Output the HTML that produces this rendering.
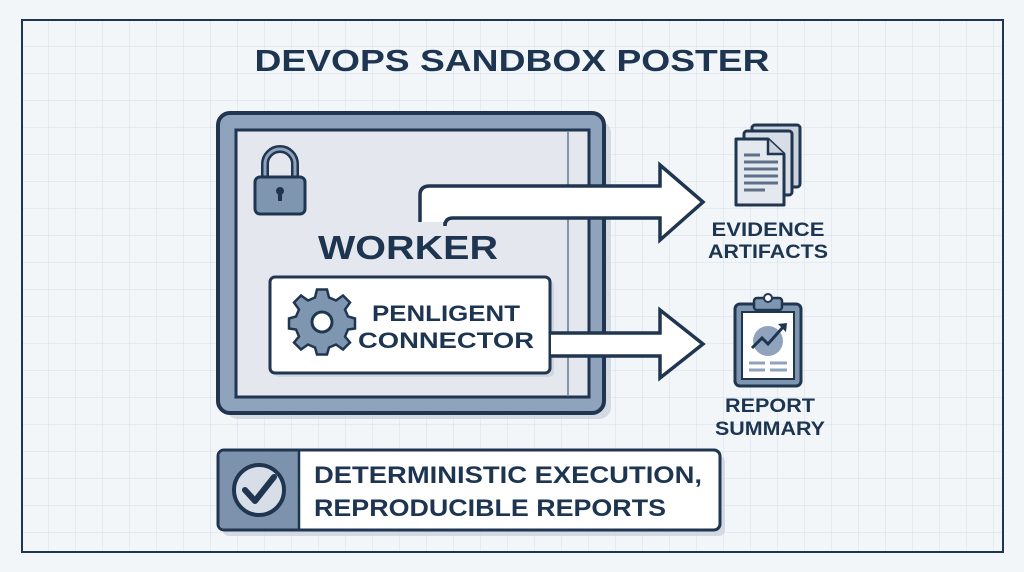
<!DOCTYPE html>
<html><head><meta charset="utf-8"><style>
html,body{margin:0;padding:0;background:#f3f6f9;}
svg{display:block}
text{font-family:"Liberation Sans",sans-serif;font-weight:bold;fill:#1d3550}
</style></head><body>
<svg width="1024" height="572" viewBox="0 0 1024 572" xmlns="http://www.w3.org/2000/svg">
<defs>
<pattern id="g" width="27" height="27" patternUnits="userSpaceOnUse" x="22" y="20">
<path d="M27 0V27M0 27H27" stroke="#d5dfe9" stroke-width="1" fill="none"/>
</pattern>
</defs>
<rect width="1024" height="572" fill="#f3f6f9"/>
<rect x="22" y="20" width="981" height="532" fill="url(#g)" stroke="#1f3550" stroke-width="2"/>
<text x="512" y="71" font-size="31" text-anchor="middle" textLength="515" lengthAdjust="spacingAndGlyphs">DEVOPS SANDBOX POSTER</text>

<!-- worker box -->
<rect x="226" y="121" width="385" height="298" rx="12" fill="#c6ceda" opacity="0.7"/>
<rect x="218" y="113" width="386" height="300" rx="12" fill="#8fa4bc" stroke="#1f3550" stroke-width="4"/>
<rect x="236" y="130" width="353" height="267" fill="#e4e8ee" stroke="#1f3550" stroke-width="3"/>
<line x1="568" y1="132" x2="568" y2="395" stroke="#8594a8" stroke-width="2"/>

<!-- lock -->
<path d="M265 178 V164 a15 15 0 0 1 30 0 V178" fill="none" stroke="#1f3550" stroke-width="8"/>
<path d="M265 178 V164 a15 15 0 0 1 30 0 V178" fill="none" stroke="#8fa4bc" stroke-width="3"/>
<rect x="255" y="177" width="50" height="37" rx="5" fill="#7f96b0" stroke="#1f3550" stroke-width="3"/>
<circle cx="280" cy="191" r="4" fill="#1f3550"/><rect x="278" y="192" width="4" height="9" fill="#1f3550"/>

<!-- upper arrow -->
<path d="M420 222 V195 Q420 186 430 186 H660 V165 L703 202 L660 240 V218 H453 Q445 218 445 226 V222" fill="#fff" stroke="#1f3550" stroke-width="3.5" stroke-linejoin="miter"/>
<text x="408" y="259" font-size="33" text-anchor="middle" textLength="180" lengthAdjust="spacingAndGlyphs">WORKER</text>

<!-- connector box -->
<rect x="274" y="281" width="280" height="96" rx="5" fill="#c6ceda" opacity="0.7"/>
<rect x="270" y="277" width="280" height="96" rx="5" fill="#fff" stroke="#1f3550" stroke-width="3"/>
<g transform="translate(322,322)" fill="#7f96b0" stroke="#1f3550" stroke-width="2.5">
<path d="M-5 -31 H5 L7 -23 L14 -20 L21 -25 L28 -18 L23 -11 L26 -4 L33 -2 V8 L26 9 L23 16 L28 22 L21 29 L14 24 L7 27 L5 34 H-5 L-7 27 L-14 24 L-21 29 L-28 22 L-23 16 L-26 9 L-33 8 V-2 L-26 -4 L-23 -11 L-28 -18 L-21 -25 L-14 -20 L-7 -23 Z" transform="translate(0,-1.5)"/>
<circle r="10" fill="#fff" stroke-width="3"/>
</g>
<text x="446" y="321" font-size="22" text-anchor="middle" textLength="148" lengthAdjust="spacingAndGlyphs">PENLIGENT</text>
<text x="446" y="348" font-size="22" text-anchor="middle" textLength="176" lengthAdjust="spacingAndGlyphs">CONNECTOR</text>

<!-- lower arrow -->
<path d="M551 333 H660 V310 L703 344 L660 378 V356 H551" fill="#fff" stroke="#1f3550" stroke-width="3.5"/>

<!-- documents icon -->
<rect x="752" y="125" width="48" height="62" rx="3" fill="#c9d2dd" stroke="#1f3550" stroke-width="3"/>
<rect x="744" y="131" width="48" height="64" rx="3" fill="#d8dee7" stroke="#1f3550" stroke-width="3"/>
<path d="M736 139 H768 L784 154 V205 H736 Z" fill="#e4e9ef" stroke="#1f3550" stroke-width="3" stroke-linejoin="round"/>
<path d="M768 139 V154 H784" fill="#c9d2dd" stroke="#1f3550" stroke-width="2.5"/>
<g stroke="#5c7088" stroke-width="3"><line x1="744" y1="155" x2="760" y2="155"/><line x1="744" y1="162" x2="778" y2="162"/><line x1="744" y1="169" x2="778" y2="169"/><line x1="744" y1="176" x2="778" y2="176"/><line x1="744" y1="183" x2="778" y2="183"/><line x1="744" y1="190" x2="765" y2="190"/></g>
<text x="768" y="236" font-size="19" text-anchor="middle" textLength="113" lengthAdjust="spacingAndGlyphs">EVIDENCE</text>
<text x="768" y="258" font-size="19" text-anchor="middle" textLength="120" lengthAdjust="spacingAndGlyphs">ARTIFACTS</text>

<!-- clipboard -->
<rect x="735" y="304" width="66" height="82" rx="5" fill="#7f96b0" stroke="#1f3550" stroke-width="3"/>
<rect x="742" y="312" width="52" height="67" fill="#fff" stroke="#1f3550" stroke-width="2"/>
<rect x="754" y="298" width="28" height="12" rx="3" fill="#7f96b0" stroke="#1f3550" stroke-width="2.5"/>
<circle cx="768" cy="298" r="4" fill="#fff" stroke="#1f3550" stroke-width="2"/>
<circle cx="768" cy="341" r="15" fill="#8fa4bc"/>
<path d="M752 348 L762 338 L768 344 L784 326" fill="none" stroke="#1f3550" stroke-width="3"/>
<path d="M778 324 L787 323 L786 332 Z" fill="#1f3550"/>
<g stroke="#8fa4bc" stroke-width="3"><line x1="749" y1="363" x2="765" y2="363"/><line x1="770" y1="363" x2="787" y2="363"/><line x1="749" y1="370" x2="765" y2="370"/><line x1="770" y1="370" x2="787" y2="370"/></g>
<text x="770" y="412" font-size="19" text-anchor="middle" textLength="90" lengthAdjust="spacingAndGlyphs">REPORT</text>
<text x="770" y="435" font-size="19" text-anchor="middle" textLength="110" lengthAdjust="spacingAndGlyphs">SUMMARY</text>

<!-- bottom banner -->
<rect x="223" y="456" width="502" height="80" rx="6" fill="#c6ceda" opacity="0.7"/>
<rect x="218" y="450" width="502" height="80" rx="6" fill="#fff" stroke="#1f3550" stroke-width="3"/>
<path d="M224 451.5 H299 V528.5 H224 Q219.5 528.5 219.5 524 V456 Q219.5 451.5 224 451.5Z" fill="#7d93ad"/>
<line x1="299" y1="451" x2="299" y2="529" stroke="#1f3550" stroke-width="2.5"/>
<circle cx="259" cy="490" r="25" fill="#d7dee7" stroke="#1f3550" stroke-width="4"/>
<path d="M245 490 L255 501 L274 477" fill="none" stroke="#1f3550" stroke-width="6" stroke-linecap="round" stroke-linejoin="round"/>
<text x="314" y="483" font-size="24" textLength="388" lengthAdjust="spacingAndGlyphs">DETERMINISTIC EXECUTION,</text>
<text x="314" y="516" font-size="24" textLength="352" lengthAdjust="spacingAndGlyphs">REPRODUCIBLE REPORTS</text>
</svg>
</body></html>
